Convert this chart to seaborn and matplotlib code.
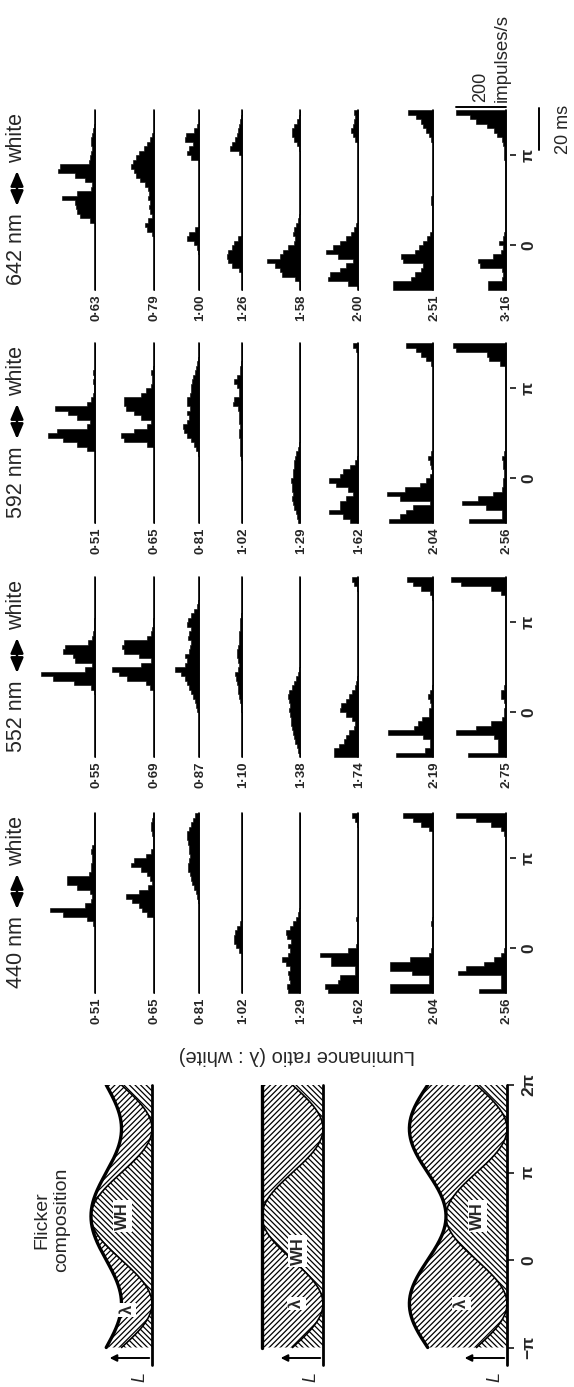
import matplotlib
matplotlib.use("Agg")
import matplotlib.pyplot as plt
from matplotlib.patches import ArrowStyle
import numpy as np
import pandas as pd
import seaborn as sns

sns.set_style("white")
plt.rcParams["font.family"] = ["Liberation Sans", "DejaVu Sans"]
plt.rcParams["hatch.linewidth"] = 0.9

# luminance ratio (lambda : white) labels, one column of histograms per wavelength
ratios_440 = ["0·51", "0·65", "0·81", "1·02", "1·29", "1·62", "2·04", "2·56"]
ratios_552 = ["0·55", "0·69", "0·87", "1·10", "1·38", "1·74", "2·19", "2·75"]
ratios_592 = ["0·51", "0·65", "0·81", "1·02", "1·29", "1·62", "2·04", "2·56"]
ratios_642 = ["0·63", "0·79", "1·00", "1·26", "1·58", "2·00", "2·51", "3·16"]

# phase bins in units of pi (-pi/2 .. 3pi/2, 40 bins)
phase_lo, phase_hi, n_bins = -0.5, 1.5, 40
phase_centers = phase_lo + (np.arange(n_bins) + 0.5) * (phase_hi - phase_lo) / n_bins

# impulses/s in each phase bin
rates_440 = [
    [0] * 15 + [8, 32, 128, 180, 40, 16, 12, 20, 72, 112, 112, 24, 16, 16, 12, 12, 16, 12, 4] + [4] * 6,
    [0] * 17 + [28, 48, 60, 88, 112, 60, 24, 8, 16, 28, 52, 92, 80, 32, 12, 4, 4, 4, 8, 12, 12, 8, 4],
    [0] * 20 + [4, 8, 12, 20, 28, 32, 36, 44, 44, 40, 36, 40, 40, 44, 48, 48, 40, 32, 24, 16],
    [0] * 9 + [12, 24, 32, 32, 28, 20, 8] + [0] * 24,
    [48, 52, 40, 44, 48, 40, 56, 72, 48, 40, 48, 36, 52, 56, 40, 28, 16, 8, 4] + [0] * 21,
    [120, 132, 80, 72, 12, 12, 108, 108, 152, 40, 8, 4, 4, 4, 4, 4, 8] + [0] * 18 + [0, 0, 4, 12, 24],
    [172, 172, 16, 16, 84, 172, 172, 92, 16, 8, 4, 4, 4, 4, 4, 8, 4] + [0] * 19 + [16, 48, 80, 120],
    [108, 20, 20, 20, 192, 160, 88, 48, 20, 8] + [4] * 25 + [8, 20, 60, 120, 200],
]
rates_552 = [
    [0] * 14 + [4, 16, 84, 168, 216, 40, 12, 80, 88, 128, 120, 28, 12, 8, 4, 4, 4] + [0] * 9,
    [0] * 15 + [16, 32, 108, 140, 168, 52, 12, 60, 120, 128, 120, 28, 12, 8, 4, 4] + [0] * 9,
    [0] * 10 + [8, 12, 16, 24, 32, 40, 48, 56, 72, 96, 56, 48, 56, 40, 36, 32, 44, 40, 32, 48, 44, 32, 20, 8, 4] + [0] * 5,
    [0] * 10 + [4, 4, 8, 12, 16, 16, 20, 24, 28, 16, 12, 16, 20, 20, 16, 12, 12, 12, 8, 8, 8, 4] + [0] * 8,
    [0, 8, 12, 20, 24, 28, 32, 36, 36, 40, 44, 40, 44, 48, 44, 32, 24, 16, 8, 4] + [0] * 20,
    [96, 96, 76, 56, 48, 36, 16, 12, 24, 48, 72, 68, 48, 36, 24, 12, 8, 4] + [0] * 19 + [4, 16, 24],
    [148, 32, 12, 12, 40, 180, 76, 60, 44, 16, 16, 8, 12, 20, 12, 4] + [0] * 19 + [4, 12, 48, 80, 104],
    [152, 32, 32, 32, 48, 200, 120, 60, 16, 8, 8, 4, 8, 20, 20, 8] + [4] * 20 + [20, 60, 180, 220],
]
rates_592 = [
    [0] * 16 + [32, 72, 128, 188, 152, 32, 20, 72, 108, 160, 32, 16, 8, 4, 4, 8, 4, 8] + [0] * 6,
    [0] * 17 + [28, 120, 132, 80, 28, 12, 52, 80, 112, 120, 120, 52, 32, 12, 8, 8, 12, 4] + [0] * 5,
    [0] * 15 + [4, 12, 20, 32, 48, 60, 64, 48, 40, 48, 36, 48, 48, 36, 32, 32, 28, 24, 16, 12, 8, 4] + [0] * 3,
    [0] * 14 + [4, 8, 8, 8, 8, 12, 12, 8, 12, 12, 12, 16, 36, 32, 12, 12, 20, 32, 20, 8, 8, 4] + [0] * 4,
    [8, 12, 16, 24, 28, 32, 28, 32, 32, 36, 28, 28, 24, 24, 20, 16, 8, 4] + [0] * 22,
    [32, 60, 116, 72, 72, 48, 20, 40, 88, 116, 72, 60, 32, 12, 4] + [0] * 23 + [8, 20],
    [176, 132, 108, 80, 12, 132, 184, 112, 52, 28, 12, 4, 8, 12, 20, 8] + [0] * 19 + [8, 28, 48, 68, 108],
    [148, 16, 16, 80, 176, 112, 52, 16, 12, 12, 8, 8, 12, 12, 16, 8] + [4] * 19 + [24, 68, 76, 200, 212],
]
rates_642 = [
    [0] * 15 + [20, 60, 72, 76, 80, 132, 72, 16, 12, 40, 80, 148, 140, 24, 20, 16, 12, 16, 16, 12, 8, 4, 0, 0, 0],
    [0] * 12 + [8, 28, 36, 24, 8, 16, 20, 16, 24, 20, 24, 36, 56, 72, 80, 92, 84, 72, 60, 40, 28, 16, 8] + [0] * 5,
    [0] * 8 + [4, 8, 20, 48, 40, 16] + [0] * 15 + [32, 48, 40, 24, 56, 52, 20, 8] + [0] * 3,
    [0] * 4 + [12, 40, 56, 60, 56, 40, 32, 16] + [0] * 18 + [12, 48, 40, 28, 20, 16, 12, 8, 4, 0],
    [0, 0, 20, 72, 80, 100, 132, 80, 68, 48, 24, 20, 28, 24, 16, 8, 4] + [0] * 14 + [4, 12, 24, 32, 32, 24, 12, 4, 0],
    [0, 40, 120, 112, 72, 48, 20, 80, 128, 100, 72, 48, 28, 16, 8] + [0] * 18 + [12, 20, 28, 20, 16, 12, 16],
    [160, 160, 88, 72, 48, 40, 120, 128, 72, 56, 40, 24, 12, 4, 4, 4, 4, 4, 4, 8, 8] + [0] * 12 + [8, 16, 28, 40, 48, 68, 100],
    [72, 72, 16, 12, 16, 104, 112, 52, 20, 12, 28, 12, 8] + [4] * 16 + [8, 8, 8, 12, 16, 36, 48, 76, 120, 144, 200],
]

# flicker composition: amplitudes relative to the white (WH) component
flicker_lambda = [0.5, 1.0, 1.6]
flicker_white = [1.0, 1.0, 1.0]
flicker_ticks = [-1, 0, 1, 2]
flicker_ticklabels = ["−π", "0", "π", "2π"]

# scale bars
scale_rate = 200   # impulses/s
scale_ms = 20      # ms

# ---- layout (pixels of the 574 x 1387 image) ----
FW, FH = 574, 1387
fig = plt.figure(figsize=(FW / 100, FH / 100), dpi=100)

# overlay in pixel coordinates for titles and loose labels
over = fig.add_axes([0, 0, 1, 1])
over.set_xlim(0, FW)
over.set_ylim(FH, 0)
over.axis("off")

row_x = [95, 154, 199, 242, 300, 358, 433, 506]
span = 180          # phase -pi/2..3pi/2
hist_w = 62         # px
px_per_rate = 0.25  # px per impulse/s


def px_axes(x0, y0, x1, y1):
    ax = fig.add_axes([x0 / FW, 1 - y1 / FH, (x1 - x0) / FW, (y1 - y0) / FH])
    ax.set_facecolor("none")
    ax.set_xticks([])
    ax.set_yticks([])
    for s in ax.spines.values():
        s.set_visible(False)
    return ax


groups = [
    ("440 nm", ratios_440, rates_440, 993),
    ("552 nm", ratios_552, rates_552, 757),
    ("592 nm", ratios_592, rates_592, 523),
    ("642 nm", ratios_642, rates_642, 290),
]

for name, ratios, rates, base_y in groups:
    for i, (lab, rate) in enumerate(zip(ratios, rates)):
        bx = row_x[i]
        ax = px_axes(bx - hist_w, base_y - span, bx, base_y)
        df = pd.DataFrame({"phase": phase_centers, "rate": rate})
        sns.histplot(data=df, y="phase", weights="rate", bins=n_bins,
                     binrange=(phase_lo, phase_hi), element="step", fill=True,
                     color="black", alpha=1, linewidth=0.4, edgecolor="black",
                     ax=ax)
        ax.set_xlim(hist_w / px_per_rate, 0)
        ax.set_ylim(phase_lo, phase_hi)
        ax.set_xticks([])
        ax.set_yticks([])
        ax.set_xlabel("")
        ax.set_ylabel("")
        ax.axvline(0, color="black", lw=1.2, clip_on=False)
        over.text(bx + 1, base_y + 18, lab, rotation=90, ha="center",
                  va="center", fontsize=9.5, fontweight="bold")
        if i == len(ratios) - 1:
            sec = ax.secondary_yaxis(1 + 4 / hist_w)
            sec.spines["right"].set_visible(False)
            sec.set_yticks([0, 1], labels=["0", "π"])
            sec.tick_params(length=4, width=1.3, pad=4, labelsize=12.5,
                            direction="out")
            for t in sec.get_yticklabels():
                t.set_rotation(90)
                t.set_va("center")
                t.set_fontweight("bold")
            if name == "642 nm":
                # scale bars
                ax.plot([scale_rate, 0], [1.53, 1.53], color="black", lw=1.4,
                        clip_on=False)
                ms_per_pi = 43.0
                ax.plot([-130, -130], [1.52, 1.52 - scale_ms / ms_per_pi],
                        color="black", lw=1.4, clip_on=False)
    # column title: "<wavelength> <-> white"
    c = base_y - span / 2
    over.text(17, c + 49, name, rotation=90, ha="center", va="center",
              fontsize=15.5)
    over.annotate("", xy=(17, c - 29), xytext=(17, c + 6),
                  arrowprops=dict(arrowstyle=ArrowStyle("<|-|>", head_length=0.75,
                                                        head_width=0.32),
                                  color="black", lw=1.8, mutation_scale=12,
                                  shrinkA=0, shrinkB=0))
    over.text(17, c - 62, "white", rotation=90, ha="center", va="center",
              fontsize=15.5)

over.text(481, 102, "200", rotation=90, ha="center", va="bottom", fontsize=13)
over.text(502, 102, "impulses/s", rotation=90, ha="center", va="bottom",
          fontsize=13.5)
over.text(563, 129, "20 ms", rotation=90, ha="center", va="center",
          fontsize=13)

# ---- flicker composition panels ----
panel_x = [152, 323, 507]
label_pos = [((0.41, -0.57), (0.49, 0.5)), ((0.43, -0.5), (0.41, 0.1)),
             ((0.74, -0.5), (0.48, 0.5))]
phase = np.linspace(-1, 2, 301)
unit_px = 61

for j, (lam_amp, wh_amp) in enumerate(zip(flicker_lambda, flicker_white)):
    bx = panel_x[j]
    ax = px_axes(bx - 112, 1085, bx, 1365)
    wh = wh_amp * (1 + np.sin(np.pi * phase)) / 2
    lam = lam_amp * (1 - np.sin(np.pi * phase)) / 2
    total = wh + lam
    ax.fill_betweenx(phase, 0, wh, facecolor="none", edgecolor="black",
                     hatch="\\" * 6, lw=0)
    ax.fill_betweenx(phase, wh, total, facecolor="none", edgecolor="black",
                     hatch="/" * 6, lw=0)
    sns.lineplot(x=total, y=phase, orient="y", sort=False, color="black",
                 lw=2.4, ax=ax)
    sns.lineplot(x=wh, y=phase, orient="y", sort=False, color="black",
                 lw=1.2, ax=ax)
    ax.set_xlim(112 / unit_px, 0)
    ax.set_ylim(-1.2, 2)
    ax.set_xticks([])
    ax.set_yticks([])
    ax.axvline(0, color="black", lw=2, clip_on=False)
    (lx, ly), (wx, wy) = label_pos[j]
    ax.text(lx, ly, "λ", rotation=90, ha="center", va="center", fontsize=12,
            fontweight="bold", bbox=dict(fc="white", ec="none", pad=1.5))
    ax.text(wx, wy, "WH", rotation=90, ha="center", va="center", fontsize=12,
            fontweight="bold", bbox=dict(fc="white", ec="none", pad=1.5))
    ax.annotate("", xy=(0.74, -1.12), xytext=(0, -1.12),
                arrowprops=dict(arrowstyle="-|>", color="black", lw=1.4,
                                mutation_scale=10),
                annotation_clip=False)
    ax.text(0.2, -1.34, "L", rotation=90, ha="center", va="center",
            fontsize=13, fontstyle="italic", clip_on=False)
    if j == 2:
        ax.yaxis.tick_right()
        ax.set_yticks(flicker_ticks, labels=flicker_ticklabels)
        ax.tick_params(axis="y", length=5, width=1.3, pad=5, labelsize=12.5,
                       direction="out", right=True)
        for t in ax.get_yticklabels():
            t.set_rotation(90)
            t.set_va("center")
            t.set_fontweight("bold")

over.text(52, 1220, "Flicker\ncomposition", rotation=90, ha="center",
          va="center", fontsize=14, multialignment="center")
over.text(297, 1055, "Luminance ratio (λ : white)", rotation=180,
          ha="center", va="center", fontsize=14.5)

fig.savefig("out.png", dpi=100)
